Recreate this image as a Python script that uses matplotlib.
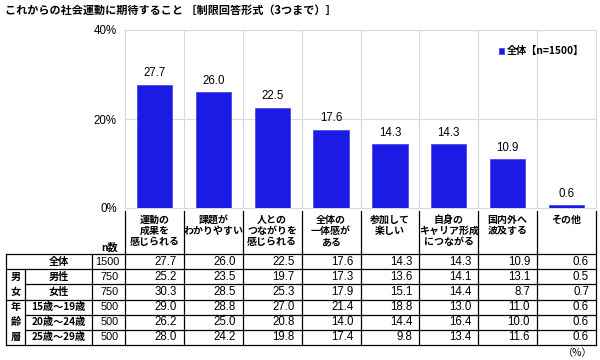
import matplotlib.pyplot as plt
import numpy as np

# chart data
categories = ["運動の\n成果を\n感じられる", "課題が\nわかりやすい", "人との\nつながりを\n感じられる",
              "全体の\n一体感が\nある", "参加して\n楽しい", "自身の\nキャリア形成\nにつながる",
              "国内外へ\n波及する", "その他"]
overall = [27.7, 26.0, 22.5, 17.6, 14.3, 14.3, 10.9, 0.6]

row_labels = ["全体", "男性", "女性", "15歳～19歳", "20歳～24歳", "25歳～29歳"]
row_n = [1500, 750, 750, 500, 500, 500]
male = [25.2, 23.5, 19.7, 17.3, 13.6, 14.1, 13.1, 0.5]
female = [30.3, 28.5, 25.3, 17.9, 15.1, 14.4, 8.7, 0.7]
age_15_19 = [29.0, 28.8, 27.0, 21.4, 18.8, 13.0, 11.0, 0.6]
age_20_24 = [26.2, 25.0, 20.8, 14.0, 14.4, 16.4, 10.0, 0.6]
age_25_29 = [28.0, 24.2, 19.8, 17.4, 9.8, 13.4, 11.6, 0.6]
table_rows = [overall, male, female, age_15_19, age_20_24, age_25_29]

title = "これからの社会運動に期待すること ［制限回答形式（3つまで）］"
legend_label = "全体【n=1500】"

JP = ['Noto Sans CJK JP', 'DejaVu Sans']
NUM = ['Liberation Sans', 'Noto Sans CJK JP']
BLUE = '#1b1be3'
GRID = '#d9d9d9'

W, H = 600, 360
fig = plt.figure(figsize=(6, 3.6), dpi=100)

# plot area in pixels
px_left, px_right, px_top, px_bot = 125, 596, 30, 208
ax = fig.add_axes([px_left / W, 1 - px_bot / H, (px_right - px_left) / W, (px_bot - px_top) / H])
n = len(categories)
x = np.arange(n)
bars = ax.bar(x, overall, width=0.6, color=BLUE, edgecolor='#4a4af0', linewidth=0.6, zorder=3,
              label=legend_label)
ax.set_xlim(-0.5, n - 0.5)
ax.set_ylim(0, 40)
ax.set_yticks([0, 20, 40])
ax.set_yticklabels(["0%", "20%", "40%"], family=NUM, fontsize=8.3)
ax.tick_params(axis='y', length=0, pad=6)
ax.set_xticks([])
for b in np.arange(n - 1) + 0.5:
    ax.axvline(b, color=GRID, lw=0.8, zorder=1)
ax.axhline(20, color=GRID, lw=0.8, zorder=1)
for s in ax.spines.values():
    s.set_color(GRID)
    s.set_linewidth(0.8)
for rect, v in zip(bars, overall):
    ax.text(rect.get_x() + rect.get_width() / 2, v + 1.3, f"{v:.1f}", ha='center', va='bottom',
            fontsize=8.3, family=NUM)
leg = ax.legend(loc='upper right', bbox_to_anchor=(0.995, 0.96), frameon=False, handlelength=0.5,
                handleheight=0.5, handletextpad=0.3, prop={'family': JP, 'size': 7.3, 'weight': 'bold'})

fig.text(5 / W, 1 - 10 / H, title, fontsize=8, weight='bold', family=JP, va='center', ha='left')

# table drawn in pixel coordinates
tab = fig.add_axes([0, 0, 1, 1])
tab.set_xlim(0, W)
tab.set_ylim(H, 0)
tab.axis('off')
tab.patch.set_alpha(0)

col_w = (px_right - px_left) / n
col_edges = [px_left + i * col_w for i in range(n + 1)]
head_top, tab_top, tab_bot = 211, 254, 345
row_h = (tab_bot - tab_top) / len(table_rows)
row_edges = [tab_top + i * row_h for i in range(len(table_rows) + 1)]
x_left, x_grp, x_n = 6, 25, 92
lw = 0.9

# header
for xe in col_edges:
    tab.plot([xe, xe], [head_top, tab_bot], color='black', lw=lw)
for i, lab in enumerate(categories):
    tab.text(col_edges[i] + col_w / 2, head_top + 4, lab, ha='center', va='top', fontsize=7.2,
             weight='bold', family=JP, linespacing=1.12)
tab.text(px_left - 7, tab_top - 1, "n数", ha='right', va='bottom', fontsize=7.3, weight='bold', family=JP)

# outer / row lines
tab.plot([x_left, x_left], [tab_top, tab_bot], color='black', lw=lw)
tab.plot([x_n, x_n], [tab_top, tab_bot], color='black', lw=lw)
tab.plot([x_grp, x_grp], [row_edges[1], tab_bot], color='black', lw=lw)
for j, ye in enumerate(row_edges):
    x0 = x_grp if j in (2, 4, 5) else x_left
    tab.plot([x0, px_right], [ye, ye], color='black', lw=lw)

# group labels
for k, ch in enumerate("男女"):
    tab.text((x_left + x_grp) / 2, row_edges[1] + row_h * (k + 0.5), ch, ha='center', va='center',
             fontsize=7.3, weight='bold', family=JP)
for k, ch in enumerate("年齢層"):
    tab.text((x_left + x_grp) / 2, row_edges[3] + row_h * (k + 0.5), ch, ha='center', va='center',
             fontsize=7.3, weight='bold', family=JP)

for j, (lab, nn, vals) in enumerate(zip(row_labels, row_n, table_rows)):
    yc = row_edges[j] + row_h / 2
    tab.text((x_grp + x_n) / 2, yc, lab, ha='center', va='center', fontsize=7.3, weight='bold', family=JP)
    tab.text(px_left - 6, yc, str(nn), ha='right', va='center', fontsize=7.8, family=NUM)
    for i, v in enumerate(vals):
        tab.text(col_edges[i + 1] - 7, yc, f"{v:.1f}", ha='right', va='center', fontsize=8.3, family=NUM)

tab.text(px_right - 3, 353, "（%）", ha='right', va='center', fontsize=7.3, family=JP)

fig.savefig("out.png", dpi=100)
